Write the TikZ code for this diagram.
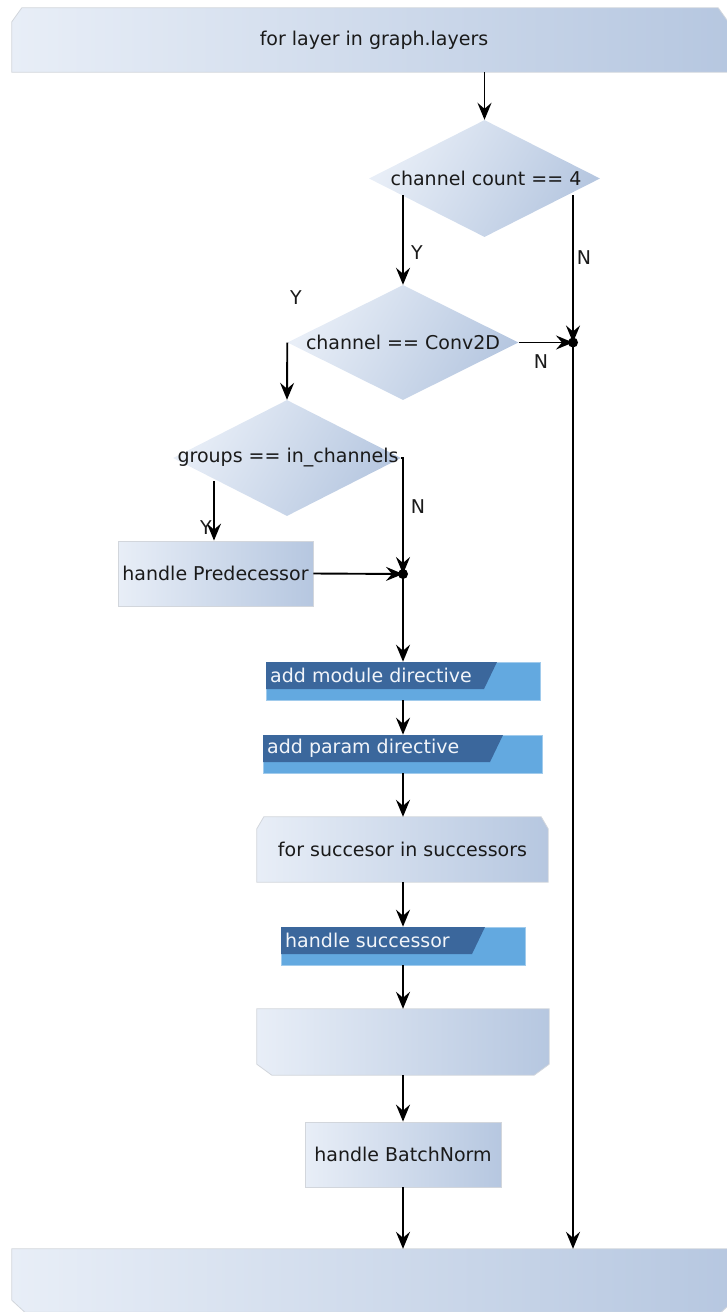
\documentclass[tikz,border=0pt]{standalone}
\usepackage{fontspec}
\setmainfont{DejaVu Sans}
\usetikzlibrary{shapes.geometric,arrows.meta,calc}

\definecolor{gradL}{HTML}{E8EEF7}
\definecolor{gradR}{HTML}{B6C7E0}
\definecolor{edgegray}{HTML}{D2D6DC}
\definecolor{dirdark}{HTML}{3B679C}
\definecolor{dirlight}{HTML}{63A9E0}
\definecolor{dirtxt}{HTML}{F2F5FA}
\definecolor{ink}{HTML}{1A1A1A}

\tikzset{
  every node/.style={font=\fontsize{19}{23}\selectfont, text=ink},
  grad/.style={left color=gradL, right color=gradR},
  procbox/.style={grad, draw=edgegray, line width=0.8pt, rectangle, inner sep=0pt},
  frame/.style={rectangle, inner sep=0pt},
  loopfill/.style={grad, draw=edgegray, line width=0.8pt},
  decision/.style={grad, diamond, inner sep=0pt, shading angle=60},
  dirbase/.style={fill=dirlight, draw=dirlight!60!white, line width=0.6pt, rectangle, inner sep=0pt},
  dirlabel/.style={text=dirtxt, inner sep=0pt},
  branch/.style={inner sep=1pt},
  arr/.style={draw=black, line width=1.9pt, -{Stealth[length=17pt,width=14pt,inset=6pt]}}
}

% blue directive box: name, left, top, right, bottom, slant x, text
\newcommand\dirbox[7]{%
  \node[dirbase, minimum width={(#4-#2)*1pt}, minimum height={(#5-#3)*1pt}] (#1) at ({(#2+#4)/2},{(#3+#5)/2}) {};
  \fill[dirdark] (#2,#3) -- (#6,#3) -- ({#6-13},{#5-11}) -- (#2,{#5-11}) -- cycle;
  \node[dirlabel, anchor=west] (#1-text) at ({#2+4},{#3+13.5}) {#7};
}

% loop head (top corners cut): name, chamfer dx, chamfer dy
\newcommand\loophead[3]{%
  \shade[loopfill] (#1.south west) -- ($(#1.north west)+(0,#3)$) -- ($(#1.north west)+(#2,0)$)
    -- ($(#1.north east)+(-#2,0)$) -- ($(#1.north east)+(0,#3)$) -- (#1.south east) -- cycle;
}
% loop tail (bottom corners cut)
\newcommand\looptail[3]{%
  \shade[loopfill] (#1.north west) -- (#1.north east) -- ($(#1.south east)+(0,-#3)$)
    -- ($(#1.south east)+(-#2,0)$) -- ($(#1.south west)+(#2,0)$) -- ($(#1.south west)+(0,-#3)$) -- cycle;
}

\begin{document}
\begin{tikzpicture}[x=1pt,y=-1pt]
\useasboundingbox (0,0) rectangle (726,1312);

% outer loop head and tail
\node[frame, minimum width=716pt, minimum height=64pt] (forLayers) at (370,40) {};
\loophead{forLayers}{10}{14}
\node (forLayersTxt) at (374,40) {for layer in graph.layers};
\node[frame, minimum width=722pt, minimum height=63pt] (endLayers) at (373,1280.5) {};
\looptail{endLayers}{13}{12}

% decisions
\node[decision, minimum width=231pt, minimum height=117pt] (chCount) at (484.5,178.5) {};
\node (chCountTxt) at (486,178) {channel count == 4};
\node[decision, minimum width=231pt, minimum height=115pt] (convChk) at (403,342.5) {};
\node (convChkTxt) at (403,342) {channel == Conv2D};
\node[decision, minimum width=228pt, minimum height=116pt] (grpChk) at (287,458) {};
\node (grpChkTxt) at (288,458) {groups == in\_channels};

% processes
\node[procbox, minimum width=195pt, minimum height=65pt] (pred) at (215.5,573.5) {handle Predecessor};
\node[procbox, minimum width=196pt, minimum height=65pt] (handleBN) at (403,1154.5) {handle BatchNorm};

% inner loop head and tail
\node[frame, minimum width=291pt, minimum height=65pt] (forSucc) at (402.5,849.5) {};
\loophead{forSucc}{7}{12}
\node (forSuccTxt) at (forSucc) {for succesor in successors};
\node[frame, minimum width=292pt, minimum height=66pt] (endSucc) at (403,1042) {};
\looptail{endSucc}{15}{11}

% directives
\dirbox{modDir}{266}{662}{540}{700}{497}{add module directive}
\dirbox{paramDir}{263}{735}{542}{773}{503}{add param directive}
\dirbox{succDir}{281}{927}{525}{965}{485}{handle successor}

% junctions and branch starts
\coordinate (j1) at (573,342.5);
\coordinate (j2) at (403,574);
\coordinate (yOut1) at (403,195);
\coordinate (nOut1) at (573,195);
\coordinate (yOut3) at (214,481);

% connectors
\draw[arr] (chCount.north |- forLayers.south) -- (chCount.north);
\draw[arr] (yOut1) -- (convChk.north);
\draw[arr] (nOut1) -- (j1);
\draw[arr] (convChk.east) -- (j1);
\draw[arr] (convChk.west) -- (grpChk.north);
\draw[arr] (yOut3) -- (yOut3 |- pred.north);
\draw[arr] (grpChk.east) -| (j2);
\draw[arr] (pred.east) -- (j2);
\draw[arr] (j2) -- (j2 |- modDir.north);
\draw[arr] (j2 |- modDir.south) -- (j2 |- paramDir.north);
\draw[arr] (j2 |- paramDir.south) -- (j2 |- forSucc.north);
\draw[arr] (j2 |- forSucc.south) -- (j2 |- succDir.north);
\draw[arr] (j2 |- succDir.south) -- (j2 |- endSucc.north);
\draw[arr] (j2 |- endSucc.south) -- (j2 |- handleBN.north);
\draw[arr] (handleBN.south) -- (handleBN.south |- endLayers.north);
\draw[arr] (j1) -- (j1 |- endLayers.north);

\fill (j1) circle[radius=5pt];
\fill (j2) circle[radius=5pt];

% branch labels
\node[branch] (lblY1) at (417,253) {Y};
\node[branch] (lblN1) at (584,258) {N};
\node[branch] (lblY2) at (296,298) {Y};
\node[branch] (lblN2) at (541,362) {N};
\node[branch] (lblY3) at (206,528) {Y};
\node[branch] (lblN3) at (418,507) {N};
\end{tikzpicture}
\end{document}
